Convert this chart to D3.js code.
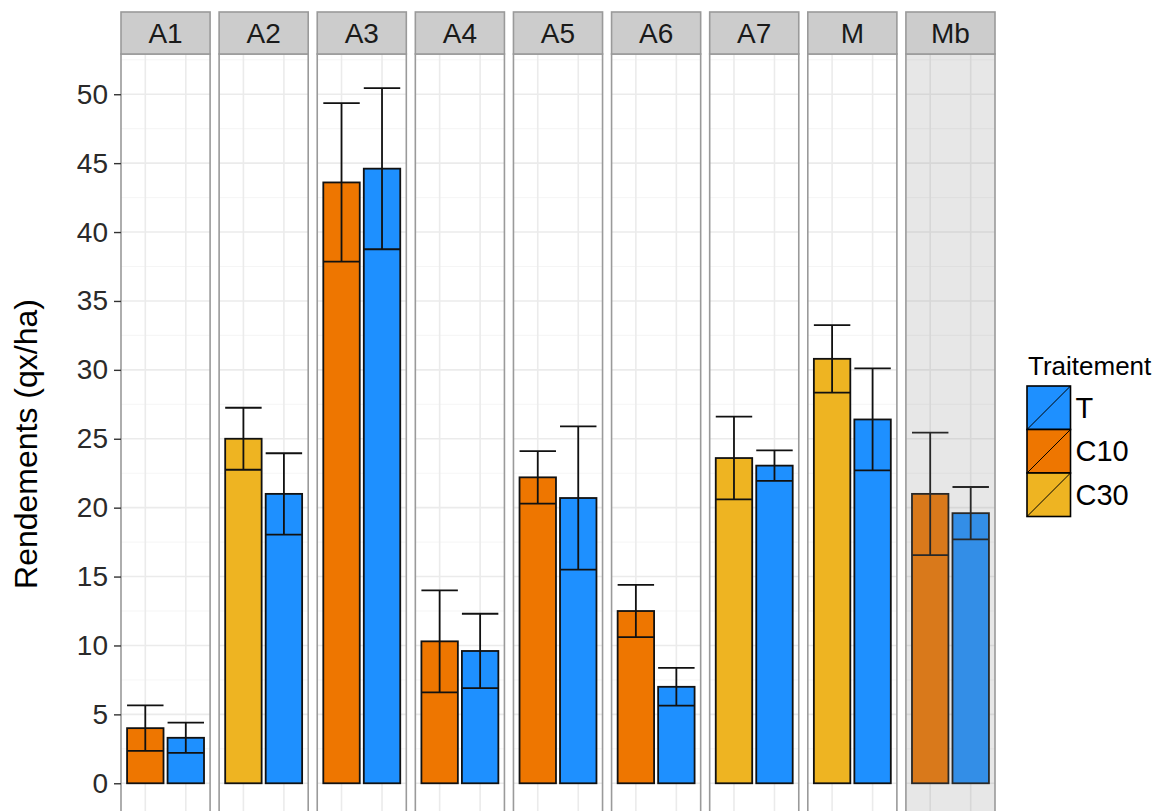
<!DOCTYPE html>
<html><head><meta charset="UTF-8">
<style>
body { margin: 0; background: #fff; }
text { font-family: "Liberation Sans", Arial, sans-serif; }
.grid-major { stroke: #ebebeb; stroke-width: 1.6; }
.grid-minor { stroke: #f4f4f4; stroke-width: 0.9; }
.bar { stroke: #111; stroke-width: 1.8; }
.err { stroke: #111; stroke-width: 1.8; fill: none; }
</style>
<script src="https://cdn.jsdelivr.net/npm/d3@7"></script>
</head><body>
<div id="chart"></div>
<script>
// facets, in order
var facets = ["A1", "A2", "A3", "A4", "A5", "A6", "A7", "M", "Mb"];
// treatment of the first bar in each facet (second bar is always T)
var firstTreat = ["C10", "C30", "C10", "C10", "C10", "C10", "C30", "C30", "C10"];
var firstMean = [4.0, 25.0, 43.6, 10.3, 22.2, 12.5, 23.6, 30.8, 21.0];
var firstErr  = [1.65, 2.25, 5.75, 3.7, 1.9, 1.9, 3.0, 2.45, 4.45];
var tMean = [3.3, 21.0, 44.6, 9.6, 20.7, 7.0, 23.05, 26.4, 19.6];
var tErr  = [1.1, 2.95, 5.85, 2.7, 5.2, 1.37, 1.1, 3.7, 1.9];

var legendLabels = ["T", "C10", "C30"];
var colours = { "T": "#1e90ff", "C10": "#ee7600", "C30": "#eeb422" };
var yTicks = d3.range(0, 51, 5);
var yMinor = d3.range(2.5, 53, 5);

var width = 1158, height = 811;
var plotTop = 54, plotBottom = 818, stripH = 42;

var svg = d3.select("#chart").append("svg")
    .attr("width", width).attr("height", height);
svg.append("rect").attr("width", width).attr("height", height).attr("fill", "#fff");

// y scale (ggplot-style 5% expansion)
var y = d3.scaleLinear().domain([-2.52, 52.92]).range([plotBottom, plotTop]);

// facet positions
var fx = d3.scaleBand().domain(facets).range([121, 995]).paddingInner(0.092).paddingOuter(0);
var pw = fx.bandwidth();

// x scale inside a panel
var x = d3.scaleBand().domain([0, 1]).range([0, pw]).paddingInner(0.1).paddingOuter(0.15);

// data rows
var rows = [];
facets.forEach(function(f, i) {
  rows.push({ facet: f, pos: 0, treat: firstTreat[i], mean: firstMean[i], err: firstErr[i] });
  rows.push({ facet: f, pos: 1, treat: "T", mean: tMean[i], err: tErr[i] });
});

var panels = svg.selectAll(".panel")
    .data(facets)
    .enter().append("g")
    .attr("class", "panel")
    .attr("transform", function(d) { return "translate(" + fx(d) + ",0)"; });

// grid
panels.selectAll(".gminor").data(yMinor).enter().append("line")
    .attr("class", "grid-minor")
    .attr("x1", 0).attr("x2", pw)
    .attr("y1", function(d) { return y(d); }).attr("y2", function(d) { return y(d); });
panels.selectAll(".gmajor").data(yTicks).enter().append("line")
    .attr("class", "grid-major")
    .attr("x1", 0).attr("x2", pw)
    .attr("y1", function(d) { return y(d); }).attr("y2", function(d) { return y(d); });
panels.selectAll(".gvert").data([0, 1]).enter().append("line")
    .attr("class", "grid-major")
    .attr("x1", function(d) { return x(d) + x.bandwidth() / 2; })
    .attr("x2", function(d) { return x(d) + x.bandwidth() / 2; })
    .attr("y1", plotTop).attr("y2", plotBottom);

// bars
panels.selectAll(".bar")
    .data(function(f) { return rows.filter(function(r) { return r.facet === f; }); })
    .enter().append("rect")
    .attr("class", "bar")
    .attr("x", function(d) { return x(d.pos); })
    .attr("width", x.bandwidth())
    .attr("y", function(d) { return y(d.mean); })
    .attr("height", function(d) { return y(0) - y(d.mean); })
    .attr("fill", function(d) { return colours[d.treat]; });

// error bars
var eb = panels.selectAll(".errbar")
    .data(function(f) { return rows.filter(function(r) { return r.facet === f; }); })
    .enter().append("g").attr("class", "errbar");
eb.append("path")
    .attr("class", "err")
    .attr("d", function(d) {
      var x0 = x(d.pos), x1 = x0 + x.bandwidth(), xc = x0 + x.bandwidth() / 2;
      var lo = y(d.mean - d.err), hi = y(d.mean + d.err);
      return "M" + x0 + "," + hi + "H" + x1 + "M" + xc + "," + hi + "V" + lo + "M" + x0 + "," + lo + "H" + x1;
    });

// highlight overlay on the Mb panel
panels.filter(function(d) { return d === "Mb"; })
  .append("rect")
    .attr("x", 0).attr("y", plotTop).attr("width", pw).attr("height", plotBottom - plotTop)
    .attr("fill", "rgb(136,136,136)").attr("fill-opacity", 0.2);

// panel border
panels.append("rect")
    .attr("x", 0).attr("y", plotTop).attr("width", pw).attr("height", plotBottom - plotTop)
    .attr("fill", "none").attr("stroke", "#9a9a9a").attr("stroke-width", 1.6);

// strips
panels.append("rect")
    .attr("x", 0).attr("y", plotTop - stripH).attr("width", pw).attr("height", stripH)
    .attr("fill", "#cccccc").attr("stroke", "#9a9a9a").attr("stroke-width", 1.6);
panels.append("text")
    .attr("x", pw / 2).attr("y", plotTop - stripH / 2 + 10)
    .attr("text-anchor", "middle")
    .style("font-size", "28px").attr("fill", "#1a1a1a")
    .text(function(d) { return d; });

// y axis
var yAxis = svg.append("g")
    .attr("transform", "translate(121,0)")
    .call(d3.axisLeft(y).tickValues(yTicks).tickSize(7).tickPadding(6));
yAxis.select(".domain").remove();
yAxis.selectAll(".tick line").attr("stroke", "#333").attr("stroke-width", 1.4);
yAxis.selectAll(".tick text")
    .style("font-size", "28px").attr("fill", "#2a2a2a")
    .style("font-family", "'Liberation Sans', Arial, sans-serif");

svg.append("text")
    .attr("transform", "translate(37," + ((plotTop + plotBottom) / 2 + 8) + ") rotate(-90)")
    .attr("text-anchor", "middle")
    .style("font-size", "32px").attr("fill", "#000")
    .text("Rendements (qx/ha)");

// legend
var legend = svg.append("g").attr("transform", "translate(1027,386)");
var key = 43.5;
legend.append("text")
    .attr("x", 1).attr("y", -11)
    .style("font-size", "26px").attr("fill", "#000")
    .text("Traitement");
var items = legend.selectAll(".item").data(legendLabels).enter().append("g")
    .attr("transform", function(d, i) { return "translate(0," + (i * key) + ")"; });
items.append("rect")
    .attr("width", key).attr("height", key)
    .attr("fill", function(d) { return colours[d]; })
    .attr("stroke", "#000").attr("stroke-width", 1.6);
items.append("line")
    .attr("x1", 0).attr("y1", key).attr("x2", key).attr("y2", 0)
    .attr("stroke", "#000").attr("stroke-width", 1);
items.append("text")
    .attr("x", key + 5).attr("y", key / 2 + 10)
    .style("font-size", "29px").attr("fill", "#000")
    .text(function(d) { return d; });
</script>
</body></html>
